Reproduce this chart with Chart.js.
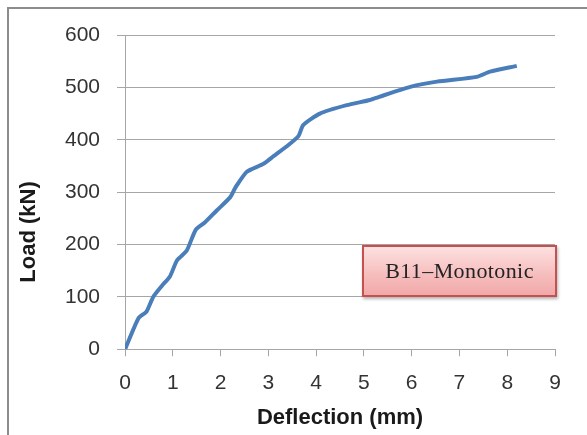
<!DOCTYPE html>
<html lang="en">
<head>
  <meta charset="UTF-8" />
  <title>B11 Load-Deflection</title>
  <style>
    body {
      margin: 0;
      background: white;
    }
    .wrap {
      position: relative;
      width: 587px;
      height: 435px;
      overflow: hidden;
    }
    .frame {
      position: absolute;
      left: 7px;
      top: 7px;
      width: 600px;
      height: 450px;
      border-top: 2px solid #8c8c8c;
      border-left: 2px solid #8c8c8c;
    }
    .tag {
      position: absolute;
      left: 362px;
      top: 245px;
      width: 191px;
      height: 48px;
      border: 2px solid #c4504f;
      background: linear-gradient(#fde0e0, #f6bcbc 60%, #f2a9a9);
      box-shadow: 1px 2px 3px rgba(0,0,0,0.3);
      font-family: "Liberation Serif", serif;
      font-size: 22px;
      letter-spacing: 0.4px;
      color: #222;
      text-align: center;
      line-height: 48px;
    }
    canvas {
      position: absolute;
      left: 0;
      top: 0;
    }
  </style>
  <script src="https://cdn.jsdelivr.net/npm/chart.js"></script>
</head>
<body>
<div class="wrap">
  <div class="frame"></div>
  <canvas id="chart" width="587" height="435"></canvas>
  <div class="tag">B11–Monotonic</div>
</div>

<script>
  const deflection = [0, 0.28, 0.45, 0.59, 0.77, 0.94, 1.09, 1.29, 1.48, 1.67, 1.92, 2.2, 2.3, 2.37, 2.55, 2.9, 3.07, 3.42, 3.63, 3.73, 4.08, 4.64, 5.13, 5.32, 5.97, 6.53, 7.36, 7.64, 8.2];
  const load = [0, 59, 72, 100, 121, 139, 170, 188, 228, 242, 265, 290, 307, 317, 339, 354, 366, 390, 407, 428, 450, 466, 476, 482, 501, 511, 520, 530, 541];
  const xTitle = "Deflection (mm)";
  const yTitle = "Load (kN)";

  const gridGray = "#a6a6a6";
  const tickFont = { family: "Liberation Sans", size: 21 };
  const titleFont = { family: "Liberation Sans", size: 22, weight: "bold" };

  // y title sits lower than the plot centre in the original, so draw it by hand
  const yTitlePlugin = {
    id: "yTitle",
    afterDraw(chart) {
      const ctx = chart.ctx;
      ctx.save();
      ctx.translate(29, 232);
      ctx.rotate(-Math.PI / 2);
      ctx.font = "bold 22px 'Liberation Sans'";
      ctx.fillStyle = "#1a1a1a";
      ctx.textAlign = "center";
      ctx.textBaseline = "middle";
      ctx.fillText(yTitle, 0, 0);
      ctx.restore();
    }
  };

  new Chart(document.getElementById("chart"), {
    type: "scatter",
    data: {
      datasets: [{
        data: deflection.map((d, i) => ({ x: d, y: load[i] })),
        showLine: true,
        borderColor: "#4a7ebb",
        borderWidth: 4,
        pointRadius: 0,
        tension: 0.2
      }]
    },
    options: {
      responsive: false,
      animation: false,
      layout: { padding: { left: 0, top: 35, right: 32, bottom: 0 } },
      plugins: {
        legend: { display: false },
        tooltip: { enabled: false }
      },
      scales: {
        x: {
          min: 0,
          max: 9,
          afterFit(scale) { scale.height = 85.7; },
          ticks: { stepSize: 1, font: tickFont, color: "#333", padding: 14 },
          grid: { drawOnChartArea: false, drawTicks: true, tickLength: 7, color: gridGray },
          border: { color: gridGray },
          title: { display: true, text: xTitle, font: titleFont, color: "#1a1a1a", padding: { top: 0, bottom: 4 } }
        },
        y: {
          min: 0,
          max: 600,
          afterFit(scale) { scale.width = 125; },
          ticks: { stepSize: 100, font: tickFont, color: "#333", padding: 17 },
          grid: { color: gridGray, tickLength: 8 },
          border: { color: gridGray }
        }
      }
    },
    plugins: [yTitlePlugin]
  });
</script>
</body>
</html>
